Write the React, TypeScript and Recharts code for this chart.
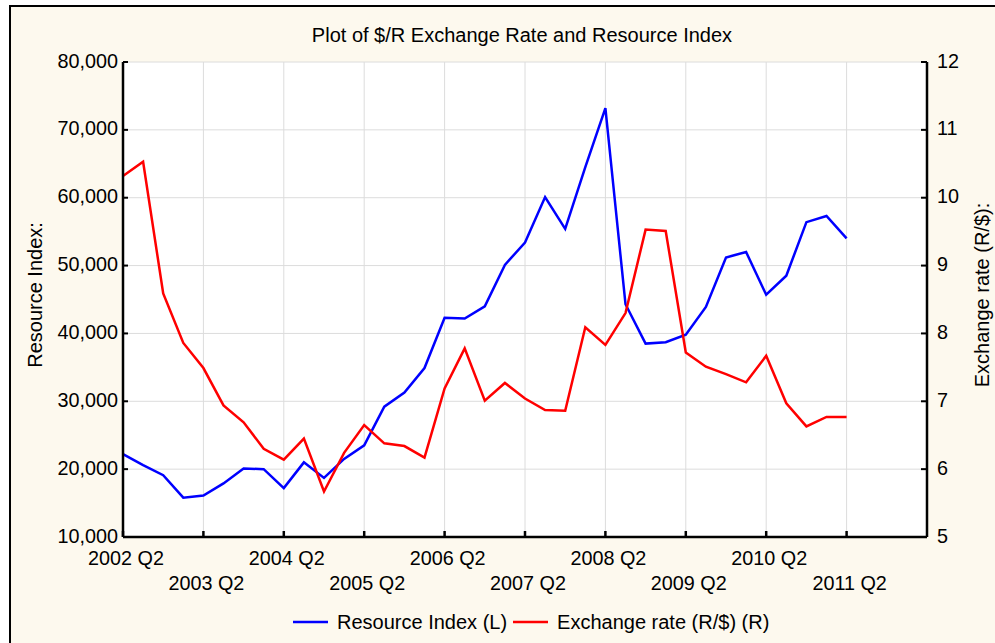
import { CartesianGrid, Legend, Line, LineChart, XAxis, YAxis } from 'recharts';

const quarters = [
  '2002 Q2', '2002 Q3', '2002 Q4',
  '2003 Q1', '2003 Q2', '2003 Q3', '2003 Q4',
  '2004 Q1', '2004 Q2', '2004 Q3', '2004 Q4',
  '2005 Q1', '2005 Q2', '2005 Q3', '2005 Q4',
  '2006 Q1', '2006 Q2', '2006 Q3', '2006 Q4',
  '2007 Q1', '2007 Q2', '2007 Q3', '2007 Q4',
  '2008 Q1', '2008 Q2', '2008 Q3', '2008 Q4',
  '2009 Q1', '2009 Q2', '2009 Q3', '2009 Q4',
  '2010 Q1', '2010 Q2', '2010 Q3', '2010 Q4',
  '2011 Q1', '2011 Q2',
];

// Resource Index (left axis)
const resourceIndex = [
  22200, 20600, 19100, 15800, 16100, 17900, 20100, 20000, 17200, 21000,
  18700, 21500, 23500, 29200, 31300, 34900, 42300, 42200, 44000, 50100,
  53400, 60100, 55400, 64500, 73200, 44300, 38500, 38700, 39800, 43900,
  51200, 52000, 45700, 48500, 56400, 57300, 54000,
];

// Exchange rate R/$ (right axis)
const exchangeRate = [
  10.32, 10.53, 8.59, 7.86, 7.49, 6.94, 6.69, 6.3, 6.14, 6.45,
  5.67, 6.24, 6.65, 6.38, 6.34, 6.17, 7.19, 7.78, 7.01, 7.27,
  7.04, 6.87, 6.86, 8.09, 7.83, 8.3, 9.53, 9.51, 7.72, 7.51,
  7.4, 7.28, 7.67, 6.97, 6.63, 6.77, 6.77,
];

const leftTicks = [10000, 20000, 30000, 40000, 50000, 60000, 70000, 80000];
const rightTicks = [5, 6, 7, 8, 9, 10, 11, 12];
const axisEnd = 40; // 2012 Q2

const yearTicks = quarters.map((q, i) => (q.endsWith('Q2') ? i : -1)).filter((i) => i >= 0);
const data = quarters.map((q, i) => ({ i, q, resource: resourceIndex[i], rate: exchangeRate[i] }));

const FONT = '"Liberation Sans", Arial, sans-serif';
const FS = 19.8;
const W = 995;
const H = 643;

const BottomTick = ({ x, y, payload }: any) => {
  const row = Math.round(payload.value / 4) % 2;
  return (
    <g>
      <line x1={x} x2={x} y1={y} y2={y - 6} stroke="#000" strokeWidth={2.5} />
      <text x={x + 3} y={y + (row ? 53 : 28)} textAnchor="middle" fontSize={FS} fontFamily={FONT} fill="#000">
        {quarters[payload.value]}
      </text>
    </g>
  );
};

const TopTick = ({ x, y }: any) => <line x1={x} x2={x} y1={y} y2={y + 6} stroke="#000" strokeWidth={2.5} />;

const LeftTick = ({ x, y, payload }: any) => (
  <g>
    <line x1={x} x2={x + 5} y1={y} y2={y} stroke="#000" strokeWidth={2} />
    <text x={x - 5} y={y + 5.5} textAnchor="end" fontSize={FS} fontFamily={FONT} fill="#000">
      {payload.value.toLocaleString('en-US')}
    </text>
  </g>
);

const RightTick = ({ x, y, payload }: any) => (
  <g>
    <line x1={x} x2={x - 6} y1={y} y2={y} stroke="#000" strokeWidth={2} />
    <text x={x + 10} y={y + 5.5} textAnchor="start" fontSize={FS} fontFamily={FONT} fill="#000">
      {payload.value}
    </text>
  </g>
);

const LegendContent = () => (
  <div style={{ display: 'flex', alignItems: 'center', height: 30, fontSize: 20, fontFamily: FONT, color: '#000', whiteSpace: 'nowrap' }}>
    <svg width={35} height={4} style={{ marginRight: 9 }}><line x1={0} x2={35} y1={2} y2={2} stroke="#0000ff" strokeWidth={2.5} /></svg>
    <span>Resource Index (L)</span>
    <svg width={35} height={4} style={{ marginLeft: 6, marginRight: 9 }}><line x1={0} x2={35} y1={2} y2={2} stroke="#ff0000" strokeWidth={2.5} /></svg>
    <span>Exchange rate (R/$) (R)</span>
  </div>
);

export default function App() {
  return (
    <div style={{ position: 'absolute', left: 0, top: 0, width: W, height: H, overflow: 'hidden', background: '#fff' }}>
      <div style={{ position: 'absolute', left: 9, top: 5, width: W, height: H, border: '2px solid #000', background: '#fdf9ee' }} />
      <div style={{ position: 'absolute', left: 0, top: 0 }}>
        <LineChart width={W} height={H} data={data} margin={{ top: 62, right: 8, bottom: 6, left: 43 }} style={{ fontFamily: FONT }}>
          <CartesianGrid xAxisId="b" yAxisId="l" stroke="#dcdcdc" fill="#fff" />
          <XAxis xAxisId="b" dataKey="i" type="number" domain={[0, axisEnd]} ticks={yearTicks} interval={0} height={70}
            tickSize={0} tickMargin={0} tickLine={false} axisLine={{ stroke: '#000', strokeWidth: 2.5 }} tick={BottomTick} />
          <XAxis xAxisId="t" orientation="top" dataKey="i" type="number" domain={[0, axisEnd]} ticks={yearTicks} interval={0} height={0}
            tickSize={0} tickMargin={0} tickLine={false} axisLine={{ stroke: '#000', strokeWidth: 2.5 }} tick={TopTick} />
          <YAxis yAxisId="l" width={80} domain={[10000, 80000]} ticks={leftTicks} interval={0}
            tickSize={0} tickMargin={0} tickLine={false} axisLine={{ stroke: '#000', strokeWidth: 2.5 }} tick={LeftTick} />
          <YAxis yAxisId="r" orientation="right" width={60} domain={[5, 12]} ticks={rightTicks} interval={0}
            tickSize={0} tickMargin={0} tickLine={false} axisLine={{ stroke: '#000', strokeWidth: 2.5 }} tick={RightTick} />
          <Line xAxisId="b" yAxisId="l" dataKey="resource" name="Resource Index (L)" stroke="#0000ff" strokeWidth={2.5} dot={false} isAnimationActive={false} />
          <Line xAxisId="b" yAxisId="r" dataKey="rate" name="Exchange rate (R/$) (R)" stroke="#ff0000" strokeWidth={2.5} dot={false} isAnimationActive={false} />
          <Legend verticalAlign="bottom" align="left" height={30} wrapperStyle={{ left: 293, width: 520 }} content={LegendContent} />
        </LineChart>
      </div>
      <svg width={W} height={H} style={{ position: 'absolute', left: 0, top: 0, pointerEvents: 'none' }} fontFamily={FONT} fontSize={20} fill="#000">
        <text x={522} y={42} textAnchor="middle">Plot of $/R Exchange Rate and Resource Index</text>
        <text transform="translate(42,295) rotate(-90)" textAnchor="middle">Resource Index:</text>
        <text transform="translate(989,295) rotate(-90)" textAnchor="middle">Exchange rate (R/$):</text>
      </svg>
    </div>
  );
}
